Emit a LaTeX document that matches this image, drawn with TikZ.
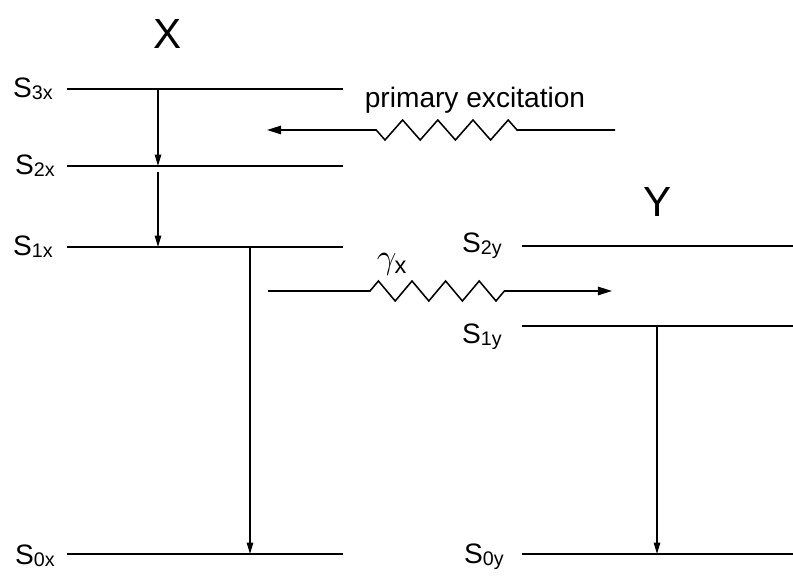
\documentclass[tikz,border=0pt]{standalone}
\usepackage{fontspec}
\setmainfont{Liberation Sans}
\usetikzlibrary{arrows.meta,positioning}
\tikzset{
  lvl/.style={line width=1.4pt},
  arr/.style={-{Triangle[length=8pt,width=4.5pt]},line width=1pt},
  warr/.style={-{Triangle[length=10pt,width=6pt]},line width=1.1pt,line join=miter},
  lbl/.style={font=\fontsize{20}{22}\selectfont,inner sep=0pt},
  ttl/.style={font=\fontsize{30}{32}\selectfont,inner sep=0pt},
}
\newcommand{\lev}[2]{S\raisebox{-0.15ex}{\fontsize{14}{14}\selectfont #1#2}}

\begin{document}
\begin{tikzpicture}
  \useasboundingbox (0,0) rectangle (19.825,14.5);
  % molecule X
  \node[ttl] (X) at (4.2,13.65) {X};
  \coordinate (s3xL) at (1.675,12.275); \coordinate (s3xR) at (8.575,12.275);
  \coordinate (s2xL) at (1.675,10.35);  \coordinate (s2xR) at (8.575,10.35);
  \coordinate (s1xL) at (1.675,8.325);  \coordinate (s1xR) at (8.575,8.325);
  \coordinate (s0xL) at (1.675,0.65);   \coordinate (s0xR) at (8.575,0.65);
  \draw[lvl] (s3xL)--(s3xR); \draw[lvl] (s2xL)--(s2xR);
  \draw[lvl] (s1xL)--(s1xR); \draw[lvl] (s0xL)--(s0xR);
  \node[lbl,left=0.35 of s3xL] (l3x) {\lev{3}{x}};
  \node[lbl,left=0.3 of s2xL] (l2x) {\lev{2}{x}};
  \node[lbl,left=0.35 of s1xL] (l1x) {\lev{1}{x}};
  \node[lbl,left=0.3 of s0xL,yshift=-1pt] (l0x) {\lev{0}{x}};
  % molecule Y
  \node[ttl] (Y) at (16.45,9.45) {Y};
  \coordinate (s2yL) at (13.05,8.35); \coordinate (s2yR) at (19.825,8.35);
  \coordinate (s1yL) at (13.05,6.35); \coordinate (s1yR) at (19.825,6.35);
  \coordinate (s0yL) at (13.05,0.65); \coordinate (s0yR) at (19.825,0.65);
  \draw[lvl] (s2yL)--(s2yR); \draw[lvl] (s1yL)--(s1yR); \draw[lvl] (s0yL)--(s0yR);
  \node[lbl,left=0.5 of s2yL] (l2y) {\lev{2}{y}};
  \node[lbl,left=0.5 of s1yL,yshift=-0.27cm] (l1y) {\lev{1}{y}};
  \node[lbl,left=0.45 of s0yL,yshift=-2pt] (l0y) {\lev{0}{y}};
  % relaxation
  \coordinate (ax1) at (3.95,0); \coordinate (ax2) at (6.25,0); \coordinate (ay) at (16.425,0);
  \draw[arr] (s3xL -| ax1) -- (s2xL -| ax1);
  \draw[arr] ([yshift=-0.15cm]s2xL -| ax1) -- (s1xL -| ax1);
  \draw[arr] (s1xL -| ax2) -- (s0xL -| ax2);
  \draw[arr] (s1yL -| ay) -- (s0yL -| ay);
  % excitation and transfer (4 waves each)
  \coordinate (pe1) at (15.375,11.25); \coordinate (pe2) at (12.925,11.25);
  \coordinate (pe4) at (6.675,11.25);
  \draw[warr] (pe1) -- (pe2) -- ++(-0.22,0.25)
    \foreach \k in {1,2,3} { -- ++(-0.44,-0.5) -- ++(-0.44,0.5) }
    -- ++(-0.44,-0.5) -- ++(-0.22,0.25) -- (pe4);
  \node[lbl] (pe) at (11.875,12.0) {primary excitation};
  \coordinate (gx1) at (6.7,7.225);  \coordinate (gx2) at (9.25,7.225);
  \coordinate (gx4) at (15.3,7.225);
  \draw[warr] (gx1) -- (gx2) -- ++(0.21,0.25)
    \foreach \k in {1,2,3} { -- ++(0.42,-0.5) -- ++(0.42,0.5) }
    -- ++(0.42,-0.5) -- ++(0.21,0.25) -- (gx4);
  \node[lbl,font=\fontsize{24}{26}\selectfont] (gx) at (9.8,7.9) {$\gamma_{\mathrm{x}}$};
\end{tikzpicture}
\end{document}
